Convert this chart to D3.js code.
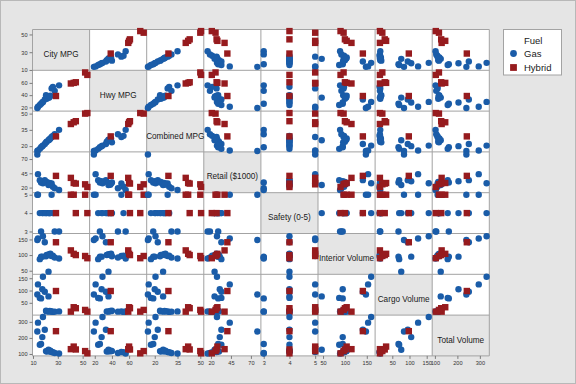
<!DOCTYPE html>
<html><head><meta charset="utf-8">
<script src="https://cdn.jsdelivr.net/npm/d3@7"></script>
<style>body{margin:0;background:#e5e5e5} svg{display:block}</style>
</head><body><svg id="c" width="576" height="384"></svg>
<script>
// ---- data ----
const varNames = ["City MPG","Hwy MPG","Combined MPG","Retail ($1000)","Safety (0-5)","Interior Volume","Cargo Volume","Total Volume"];
const fuel = ["Gas","Gas","Gas","Gas","Gas","Gas","Gas","Gas","Gas","Gas","Gas","Gas","Gas","Gas","Gas","Gas","Gas",
              "Hybrid","Hybrid","Hybrid","Hybrid","Hybrid","Hybrid"];
const city     = [13.5,14,18,16.5,19.5,17.5,22.5,15.5,21,20.5,23,24,25,26,27.5,23.5,31, 28.5,40.5,42.8,44.5,52,53.8];
const hwy      = [19,21,29,26,33,28,36,24,34,40,36,39,51,53.5,47,38,56, 38.6,59,60,61,77,73];
const combined = [15.5,16,20.5,19,22,20,25.5,17.5,24,23.5,26,27,28.5,29.5,31,26.5,35, 29,40.4,42,43,50,50.5];
const retail   = [78,43.5,27.5,29,33,31,24.5,33,30,29,28,27,27,21.5,18.7,25,15.8, 40.5,37,28,27,25.7,21];
const safety   = [5,5,4,3,4,4,4,4,4,4,4,4,5,4,3,4,3, 4,5,5,4,5,4];
const interior = [148,153,160,95,141,95,47,87,100,96,103,104,97,98,92,100,89, 141,115,104,100,97,90];
const cargo    = [84,125,156,68,95,105,76,70,15,18,14,16,15,13,14,17,15, 98,14,32,28,21,14];
const total    = [240,295,330,162,251,205,126,157,115,118,117,120,112,111,106,117,103, 242,130,146,128,118,104];
const tickVals = [[10,30,50],[20,40,60],[20,35,50],[20,45,70],[3,4,5],[50,100,150],[50,100,150],[100,200,300]];
const groups = ["Gas","Hybrid"];

// ---- layout / scales ----
const columns = [city,hwy,combined,retail,safety,interior,cargo,total];
const domains = [[9.6,55.6],[14,80.5],[14.7,52.3],[11,82.5],[2.89,5.11],[38.5,169],[0,166],[88,342]];
const x0 = 32.5, y0 = 29.5, cw = 57.1, ch = 40.8, n = 8;
const colors = {Gas:"#1a5ca8", Hybrid:"#961b1e"};
const font = "'Liberation Sans', Arial, sans-serif";

const svg = d3.select("#c");
svg.append("rect").attr("x",0.5).attr("y",0.5).attr("width",575).attr("height",383)
   .attr("fill","#e5e5e5").attr("stroke","#b8b8b8");

const xs = domains.map((d,j)=>d3.scaleLinear().domain(d).range([x0+j*cw, x0+(j+1)*cw]));
const ys = domains.map((d,i)=>d3.scaleLinear().domain(d).range([y0+(i+1)*ch, y0+i*ch]));

// cells
for (let i=0;i<n;i++) for (let j=0;j<n;j++) {
  svg.append("rect").attr("x",x0+j*cw).attr("y",y0+i*ch).attr("width",cw).attr("height",ch)
     .attr("fill", i===j ? "#e5e5e5" : "#ffffff");
}
// grid lines
const gl = svg.append("g").attr("stroke","#a3a3a3").attr("stroke-width",1);
for (let k=0;k<=n;k++) {
  gl.append("line").attr("x1",x0+k*cw).attr("x2",x0+k*cw).attr("y1",y0).attr("y2",y0+n*ch);
  gl.append("line").attr("y1",y0+k*ch).attr("y2",y0+k*ch).attr("x1",x0).attr("x2",x0+n*cw);
}
// diagonal labels
for (let i=0;i<n;i++) {
  svg.append("text").attr("x",x0+i*cw+cw/2).attr("y",y0+i*ch+ch/2+4.5)
     .attr("text-anchor","middle").attr("dominant-baseline","central")
     .attr("font-family",font).attr("font-size","8.2px").attr("fill","#1a1a1a")
     .text(varNames[i]);
}
// axes
function styleAxis(g){
  g.select(".domain").remove();
  g.selectAll(".tick line").attr("stroke","#7a7a7a");
  g.selectAll(".tick text").attr("font-family",font).attr("font-size","5.6px").attr("fill","#333");
}
const fmt = d3.format("~g");
for (let i=0;i<n;i++) {
  svg.append("g").attr("transform",`translate(${x0},0)`)
     .call(d3.axisLeft(ys[i]).tickValues(tickVals[i]).tickFormat(fmt).tickSize(3).tickPadding(2)).call(styleAxis);
  svg.append("g").attr("transform",`translate(0,${y0+n*ch})`)
     .call(d3.axisBottom(xs[i]).tickValues(tickVals[i]).tickFormat(fmt).tickSize(3).tickPadding(2)).call(styleAxis);
}
// points
const idx = d3.range(fuel.length);
const r = 3.2, s = 6.4;
for (let i=0;i<n;i++) for (let j=0;j<n;j++) {
  if (i===j) continue;
  const g = svg.append("g");
  g.selectAll("circle").data(idx.filter(k=>fuel[k]==="Gas")).join("circle")
    .attr("cx",k=>xs[j](columns[j][k])).attr("cy",k=>ys[i](columns[i][k])).attr("r",r)
    .attr("fill",colors.Gas);
  g.selectAll("rect").data(idx.filter(k=>fuel[k]==="Hybrid")).join("rect")
    .attr("x",k=>xs[j](columns[j][k])-s/2).attr("y",k=>ys[i](columns[i][k])-s/2)
    .attr("width",s).attr("height",s).attr("fill",colors.Hybrid);
}
// legend
const lg = svg.append("g");
lg.append("rect").attr("x",503.5).attr("y",29.5).attr("width",58).attr("height",45.5)
  .attr("fill","#fff").attr("stroke","#a3a3a3");
lg.append("text").attr("x",524).attr("y",40).attr("dominant-baseline","central")
  .attr("font-family",font).attr("font-size","9.5px").attr("fill","#1a1a1a").text("Fuel");
groups.forEach((gname,q)=>{
  const cy = 53.5 + q*14;
  if (gname==="Gas") lg.append("circle").attr("cx",513.5).attr("cy",cy).attr("r",3.4).attr("fill",colors.Gas);
  else lg.append("rect").attr("x",513.5-3.4).attr("y",cy-3.4).attr("width",6.8).attr("height",6.8).attr("fill",colors.Hybrid);
  lg.append("text").attr("x",524).attr("y",cy).attr("dominant-baseline","central")
    .attr("font-family",font).attr("font-size","9.5px").attr("fill","#1a1a1a").text(gname);
});
</script></body></html>
